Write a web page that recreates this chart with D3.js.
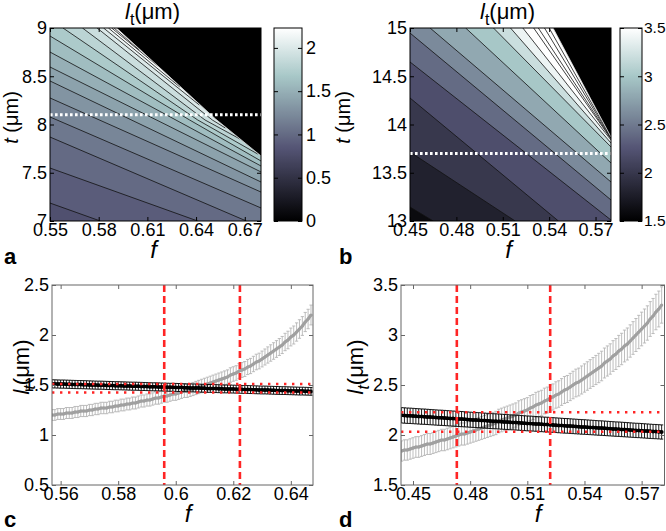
<!DOCTYPE html>
<html><head><meta charset="utf-8">
<script src="https://cdn.jsdelivr.net/npm/d3@7"></script>
<style>
body{margin:0;background:#fff;}
svg text{font-family:"Liberation Sans",Arial,Helvetica,sans-serif;fill:#000;}
</style></head><body>
<svg id="chart" width="666" height="531"></svg>
<script>
// ---------------- DATA ----------------
// Panel a (contour)
const fTicksA = [0.55, 0.58, 0.61, 0.64, 0.67];
const tTicksA = [7, 7.5, 8, 8.5, 9];
const cbTicksA = [0, 0.5, 1, 1.5, 2];
const fDomainA = [0.55, 0.68], tDomainA = [7, 9], cDomainA = [0, 2.23];
const levelsA = [0.8, 0.9, 1.0, 1.1, 1.2, 1.3, 1.4, 1.5, 1.6, 1.7, 1.8, 1.9, 2.0, 2.1, 2.2, 2.3];
const contourA = [
  [[0.55, 7.186], [0.581, 7.0]],
  [[0.55, 7.549], [0.641, 7.0]],
  [[0.55, 7.870], [0.671, 7.0]],
  [[0.55, 8.078], [0.68, 7.135]],
  [[0.55, 8.275], [0.68, 7.300]],
  [[0.55, 8.451], [0.68, 7.404]],
  [[0.55, 8.596], [0.68, 7.508]],
  [[0.55, 8.751], [0.68, 7.570]],
  [[0.55, 8.917], [0.636, 8.047], [0.68, 7.622]],
  [[0.558, 9], [0.641, 8.047], [0.678, 7.694]],
  [[0.570, 9], [0.6455, 8.047], [0.667, 7.850]],
  [[0.579, 9], [0.650, 8.047], [0.658, 7.964]],
  [[0.583, 9], [0.642, 8.202]],
  [[0.586, 9], [0.630, 8.389]],
  [[0.588, 9], [0.618, 8.585]],
  [[0.5895, 9], [0.605, 8.772]]
];
const cliffA = [[0.591, 9], [0.652, 8.057], [0.68, 7.674]];
const cutA = 8.1;

// Panel b (contour)
const fTicksB = [0.45, 0.48, 0.51, 0.54, 0.57];
const tTicksB = [13, 13.5, 14, 14.5, 15];
const cbTicksB = [1.5, 2, 2.5, 3, 3.5];
const fDomainB = [0.45, 0.58], tDomainB = [13, 15], cDomainB = [1.5, 3.5];
const levelsB = [1.6, 1.8, 2.0, 2.2, 2.4, 2.6, 2.8, 3.0, 3.2, 3.4, 3.6, 3.8, 4.0, 4.2];
const contourB = [
  [[0.45, 13.145], [0.465, 13]],
  [[0.45, 13.715], [0.518, 13]],
  [[0.45, 14.275], [0.546, 13]],
  [[0.45, 14.648], [0.58, 13.01]],
  [[0.45, 14.948], [0.58, 13.218]],
  [[0.463, 15], [0.58, 13.404]],
  [[0.486, 15], [0.58, 13.601]],
  [[0.504, 15], [0.58, 13.767]],
  [[0.515, 15], [0.58, 13.808]],
  [[0.523, 15], [0.58, 13.839]],
  [[0.530, 15], [0.58, 13.850]],
  [[0.533, 15], [0.58, 13.855]],
  [[0.537, 15], [0.58, 13.860]],
  [[0.540, 15], [0.58, 13.865]]
];
const cliffB = [[0.5425, 15], [0.58, 13.870]];
const cutB = 13.7;

// Panel c (error bars)
const fTicksC = [0.56, 0.58, 0.6, 0.62, 0.64];
const lTicksC = [0.5, 1, 1.5, 2, 2.5];
const fDomainC = [0.557, 0.6477], lDomainC = [0.5, 2.5];
const fStartC = 0.557, fStepC = 0.001;
const grayC = [
  1.20,1.20,1.21,1.21,1.21,1.22,1.22,1.22,1.23,1.23,
  1.24,1.24,1.24,1.25,1.25,1.26,1.26,1.27,1.27,1.27,
  1.28,1.28,1.29,1.29,1.30,1.30,1.31,1.31,1.32,1.32,
  1.33,1.34,1.34,1.35,1.35,1.36,1.37,1.37,1.38,1.39,
  1.39,1.40,1.41,1.41,1.42,1.43,1.44,1.44,1.45,1.46,
  1.47,1.48,1.49,1.50,1.51,1.52,1.53,1.54,1.55,1.56,
  1.57,1.58,1.60,1.61,1.62,1.64,1.65,1.66,1.68,1.69,
  1.71,1.73,1.74,1.76,1.78,1.80,1.82,1.84,1.86,1.88,
  1.90,1.93,1.95,1.98,2.00,2.03,2.06,2.09,2.13,2.16,
  2.20];
const blackC = [
  1.512,1.511,1.510,1.509,1.509,1.508,1.507,1.506,1.505,1.504,
  1.504,1.503,1.502,1.501,1.500,1.499,1.498,1.498,1.497,1.496,
  1.495,1.494,1.493,1.493,1.492,1.491,1.490,1.489,1.488,1.488,
  1.487,1.486,1.485,1.484,1.483,1.482,1.482,1.481,1.480,1.479,
  1.478,1.477,1.477,1.476,1.475,1.474,1.473,1.472,1.471,1.471,
  1.470,1.469,1.468,1.467,1.466,1.466,1.465,1.464,1.463,1.462,
  1.461,1.461,1.460,1.459,1.458,1.457,1.456,1.455,1.455,1.454,
  1.453,1.452,1.451,1.450,1.450,1.449,1.448,1.447,1.446,1.445,
  1.444,1.444,1.443,1.442,1.441,1.440,1.439,1.439,1.438,1.437,
  1.436];
const grayRelErrC = 0.045, blackRelErrC = 0.027;
const refFC = [0.596, 0.6223], refLC = [1.51, 1.425];

// Panel d (error bars)
const fTicksD = [0.45, 0.48, 0.51, 0.54, 0.57];
const lTicksD = [1.5, 2, 2.5, 3, 3.5];
const fDomainD = [0.4437, 0.582], lDomainD = [1.5, 3.5];
const fStartD = 0.444, fStepD = 0.0015;
const grayD = [
  1.84,1.85,1.85,1.86,
  1.87,1.88,1.88,1.89,1.90,1.91,1.91,1.92,1.93,1.94,
  1.95,1.95,1.96,1.97,1.98,1.99,2.00,2.01,2.01,2.02,
  2.03,2.04,2.05,2.06,2.07,2.08,2.09,2.10,2.11,2.12,
  2.14,2.15,2.16,2.17,2.18,2.19,2.20,2.22,2.23,2.24,
  2.25,2.27,2.28,2.30,2.31,2.32,2.34,2.35,2.37,2.38,
  2.40,2.41,2.43,2.45,2.46,2.48,2.50,2.52,2.53,2.55,
  2.57,2.59,2.61,2.63,2.65,2.67,2.69,2.72,2.74,2.76,
  2.79,2.81,2.84,2.86,2.89,2.91,2.94,2.97,3.00,3.03,
  3.06,3.09,3.12,3.16,3.19,3.23,3.26,3.30];
const blackD = [
  2.197,2.195,2.193,2.192,
  2.190,2.188,2.186,2.184,2.183,2.181,2.179,2.177,2.175,2.173,
  2.172,2.170,2.168,2.166,2.164,2.162,2.161,2.159,2.157,2.155,
  2.153,2.151,2.150,2.148,2.146,2.144,2.142,2.140,2.138,2.137,
  2.135,2.133,2.131,2.129,2.127,2.126,2.124,2.122,2.120,2.118,
  2.116,2.115,2.113,2.111,2.109,2.107,2.105,2.104,2.102,2.100,
  2.098,2.096,2.094,2.092,2.091,2.089,2.087,2.085,2.083,2.081,
  2.080,2.078,2.076,2.074,2.072,2.070,2.069,2.067,2.065,2.063,
  2.061,2.059,2.058,2.056,2.054,2.052,2.050,2.048,2.046,2.045,
  2.043,2.041,2.039,2.037,2.035,2.034,2.032,2.030];
const grayRelErrD = 0.055, blackRelErrD = 0.035;
const refFD = [0.473, 0.522], refLD = [2.227, 2.033];

// ---------------- DRAWING ----------------
const svg = d3.select("#chart");
const FONT = '"Liberation Sans",Arial,Helvetica,sans-serif';

function bone(x) {
  x = Math.max(0, Math.min(1, x));
  const hr = Math.min(1, x / 0.375);
  const hg = Math.max(0, Math.min(1, (x - 0.375) / 0.375));
  const hb = Math.max(0, Math.min(1, (x - 0.75) / 0.25));
  return d3.rgb(255 * (7 * x + hb) / 8, 255 * (7 * x + hg) / 8, 255 * (7 * x + hr) / 8).toString();
}

function styleAxis(g, color, size) {
  g.attr("font-size", size || 18).attr("font-family", FONT);
  g.selectAll("path.domain").remove();
  g.selectAll("line").attr("stroke", color);
  g.selectAll("text").attr("fill", "#000");
}

function frameAxes(g, x, y, fT, yT, fmtX, fmtY, color) {
  const [x0, x1] = x.range(), [y0, y1] = y.range(); // y0 bottom
  g.append("g").attr("transform", `translate(0,${y0})`)
    .call(d3.axisBottom(x).tickValues(fT).tickSize(-4).tickPadding(2).tickFormat(fmtX))
    .call(s => styleAxis(s, color));
  g.append("g").attr("transform", `translate(0,${y1})`)
    .call(d3.axisTop(x).tickValues(fT).tickSize(-4).tickFormat(""))
    .call(s => styleAxis(s, color));
  g.append("g").attr("transform", `translate(${x0},0)`)
    .call(d3.axisLeft(y).tickValues(yT).tickSize(-4).tickPadding(3).tickFormat(fmtY))
    .call(s => styleAxis(s, color));
  g.append("g").attr("transform", `translate(${x1},0)`)
    .call(d3.axisRight(y).tickValues(yT).tickSize(-4).tickFormat(""))
    .call(s => styleAxis(s, color));
  g.append("rect").attr("x", x0).attr("y", y1).attr("width", x1 - x0).attr("height", y0 - y1)
    .attr("fill", "none").attr("stroke", color).attr("stroke-width", 1);
}

function contourPanel(o) {
  const x = d3.scaleLinear().domain(o.fDom).range([o.x0, o.x1]);
  const y = d3.scaleLinear().domain(o.tDom).range([o.y1, o.y0]);
  const [f0, f1] = o.fDom, [t0, t1] = o.tDom;
  const df = f1 - f0, dt = t1 - t0;
  const g = svg.append("g");
  g.append("clipPath").attr("id", o.id).append("rect")
    .attr("x", o.x0).attr("y", o.y0).attr("width", o.x1 - o.x0).attr("height", o.y1 - o.y0);
  const layer = g.append("g").attr("clip-path", `url(#${o.id})`);
  const col = v => bone((v - o.cDom[0]) / (o.cDom[1] - o.cDom[0]));
  const line = d3.line().x(d => x(d[0])).y(d => y(d[1]));
  const step = o.levels[1] - o.levels[0];
  const high = pts => {
    const S = pts[0], E = pts[pts.length - 1];
    return pts.concat([[f1 + df, E[1]], [f1 + df, t1 + dt], [f0 - df, t1 + dt], [f0 - df, S[1]]]);
  };
  layer.append("rect").attr("x", o.x0).attr("y", o.y0).attr("width", o.x1 - o.x0).attr("height", o.y1 - o.y0)
    .attr("fill", col(o.levels[0]));
  o.levels.forEach((L, i) => {
    layer.append("path").attr("d", line(high(o.lines[i])) + "Z").attr("fill", col(L + step));
  });
  layer.append("path").attr("d", line(high(o.cliff)) + "Z").attr("fill", "#000");
  o.levels.forEach((L, i) => {
    layer.append("path").attr("d", line(o.lines[i])).attr("fill", "none")
      .attr("stroke", "#111").attr("stroke-width", 0.8);
  });
  layer.append("path").attr("d", line(o.cliff)).attr("fill", "none").attr("stroke", "#ddd").attr("stroke-width", 0.8);
  // dotted white cut line
  layer.append("line").attr("x1", o.x0).attr("x2", o.x1).attr("y1", y(o.cut)).attr("y2", y(o.cut))
    .attr("stroke", "#fff").attr("stroke-width", 3).attr("stroke-dasharray", "2.6,2.4");
  const fmt = d => String(d);
  frameAxes(g, x, y, o.fTicks, o.tTicks, fmt, fmt, "#000");

  // colorbar
  const cy = d3.scaleLinear().domain(o.cDom).range([o.y1, o.y0]);
  const gid = o.id + "grad";
  const grad = svg.append("defs").append("linearGradient").attr("id", gid)
    .attr("x1", 0).attr("y1", 1).attr("x2", 0).attr("y2", 0);
  d3.range(0, 65).forEach(k => {
    grad.append("stop").attr("offset", k / 64).attr("stop-color", bone(k / 64));
  });
  g.append("rect").attr("x", o.cbx0).attr("y", o.y0).attr("width", o.cbx1 - o.cbx0).attr("height", o.y1 - o.y0)
    .attr("fill", `url(#${gid})`).attr("stroke", "#000").attr("stroke-width", 1);
  g.append("g").attr("transform", `translate(${o.cbx1},0)`)
    .call(d3.axisRight(cy).tickValues(o.cbTicks).tickSize(-4).tickPadding(o.cbPad).tickFormat(fmt))
    .call(s => styleAxis(s, "#000", o.cbFont));
  g.append("g").attr("transform", `translate(${o.cbx0},0)`)
    .call(d3.axisLeft(cy).tickValues(o.cbTicks).tickSize(-4).tickFormat(""))
    .call(s => styleAxis(s, "#000"));

  // title l_t(μm)
  const tt = g.append("text").attr("x", (o.x0 + o.x1) / 2 - 3).attr("y", 19)
    .attr("text-anchor", "middle").attr("font-size", 22);
  tt.append("tspan").attr("font-style", "italic").text("l");
  tt.append("tspan").attr("font-size", 16).attr("dy", 6).text("t");
  tt.append("tspan").attr("dy", -6).text("(μm)");
  // ylabel t (μm)
  const yl = g.append("text").attr("transform", `translate(${o.ylx},${(o.y0 + o.y1) / 2 - 7}) rotate(-90)`)
    .attr("text-anchor", "middle").attr("font-size", 20);
  yl.append("tspan").attr("font-style", "italic").text("t");
  yl.append("tspan").text(" (μm)");
  // xlabel f
  g.append("text").attr("x", (o.x0 + o.x1) / 2 - 2).attr("y", o.y1 + 37).attr("text-anchor", "middle")
    .attr("font-size", 24).attr("font-style", "italic").text("f");
  // panel letter
  g.append("text").attr("x", o.letterX).attr("y", 264).attr("font-size", 22).attr("font-weight", "bold").text(o.letter);
}

function errorPanel(o) {
  const x = d3.scaleLinear().domain(o.fDom).range([o.x0, o.x1]);
  const y = d3.scaleLinear().domain(o.lDom).range([o.y1, o.y0]);
  const g = svg.append("g");
  g.append("clipPath").attr("id", o.id).append("rect")
    .attr("x", o.x0).attr("y", o.y0).attr("width", o.x1 - o.x0).attr("height", o.y1 - o.y0);
  const layer = g.append("g").attr("clip-path", `url(#${o.id})`);
  const fs = d3.range(o.gray.length).map(i => o.fStart + i * o.fStep);
  const cap = 1.6;
  function bars(vals, rel, color, lw, ccol, cw, dotR) {
    let p = "";
    vals.forEach((v, i) => {
      const e = v * rel, xx = x(fs[i]), ya = y(v + e), yb = y(v - e);
      p += `M${xx},${ya}V${yb}M${xx - cap},${ya}H${xx + cap}M${xx - cap},${yb}H${xx + cap}`;
    });
    layer.append("path").attr("d", p).attr("fill", "none").attr("stroke", color).attr("stroke-width", lw);
    const ln = d3.line().x((d, i) => x(fs[i])).y(d => y(d));
    layer.append("path").attr("d", ln(vals)).attr("fill", "none").attr("stroke", ccol).attr("stroke-width", cw);
    layer.selectAll(null).data(vals).join("circle").attr("cx", (d, i) => x(fs[i])).attr("cy", d => y(d))
      .attr("r", dotR).attr("fill", ccol);
  }
  bars(o.gray, o.grayRel, "#b5b5b5", 0.9, "#a0a0a0", 3, 1.6);
  bars(o.black, o.blackRel, "#000", 0.9, "#000", 3, 2.0);
  o.refF.forEach(f => layer.append("line").attr("x1", x(f)).attr("x2", x(f)).attr("y1", o.y0).attr("y2", o.y1)
    .attr("stroke", "#ff2525").attr("stroke-width", 2.6).attr("stroke-dasharray", "7,4"));
  o.refL.forEach(l => layer.append("line").attr("x1", o.x0).attr("x2", o.x1).attr("y1", y(l)).attr("y2", y(l))
    .attr("stroke", "#ff2525").attr("stroke-width", 2.4).attr("stroke-dasharray", "2.4,5.6"));
  frameAxes(g, x, y, o.fTicks, o.lTicks, d => String(d), d => String(d), "#666");
  // ylabel l_t(μm)
  const yl = g.append("text").attr("transform", `translate(${o.ylx},367) rotate(-90)`)
    .attr("text-anchor", "middle").attr("font-size", 22);
  yl.append("tspan").attr("font-style", "italic").text("l");
  yl.append("tspan").attr("font-style", "italic").attr("font-size", 16).attr("dy", 6).text("t");
  yl.append("tspan").attr("dy", -6).text("(μm)");
  g.append("text").attr("x", o.fx).attr("y", o.y1 + 37).attr("text-anchor", "middle")
    .attr("font-size", 24).attr("font-style", "italic").text("f");
  g.append("text").attr("x", o.letterX).attr("y", 527).attr("font-size", 22).attr("font-weight", "bold").text(o.letter);
}

contourPanel({id: "ca", x0: 50, x1: 261, y0: 28, y1: 221, cbx0: 274, cbx1: 302, cbPad: 4, cbFont: 18, ylx: 18, letterX: 4, letter: "a",
  fDom: fDomainA, tDom: tDomainA, cDom: cDomainA, levels: levelsA, lines: contourA, cliff: cliffA, cut: cutA,
  fTicks: fTicksA, tTicks: tTicksA, cbTicks: cbTicksA});
contourPanel({id: "cb", x0: 410, x1: 611, y0: 28, y1: 221, cbx0: 620, cbx1: 642, cbPad: 2, cbFont: 15.5, ylx: 350, letterX: 339, letter: "b",
  fDom: fDomainB, tDom: tDomainB, cDom: cDomainB, levels: levelsB, lines: contourB, cliff: cliffB, cut: cutB,
  fTicks: fTicksB, tTicks: tTicksB, cbTicks: cbTicksB});
errorPanel({id: "ec", x0: 52, x1: 313, y0: 285, y1: 485, ylx: 29, fx: 188, letterX: 4, letter: "c",
  fDom: fDomainC, lDom: lDomainC, fStart: fStartC, fStep: fStepC, gray: grayC, black: blackC,
  grayRel: grayRelErrC, blackRel: blackRelErrC, refF: refFC, refL: refLC, fTicks: fTicksC, lTicks: lTicksC});
errorPanel({id: "ed", x0: 401, x1: 664.5, y0: 285, y1: 485, ylx: 363, fx: 538, letterX: 339, letter: "d",
  fDom: fDomainD, lDom: lDomainD, fStart: fStartD, fStep: fStepD, gray: grayD, black: blackD,
  grayRel: grayRelErrD, blackRel: blackRelErrD, refF: refFD, refL: refLD, fTicks: fTicksD, lTicks: lTicksD});
</script></body></html>
